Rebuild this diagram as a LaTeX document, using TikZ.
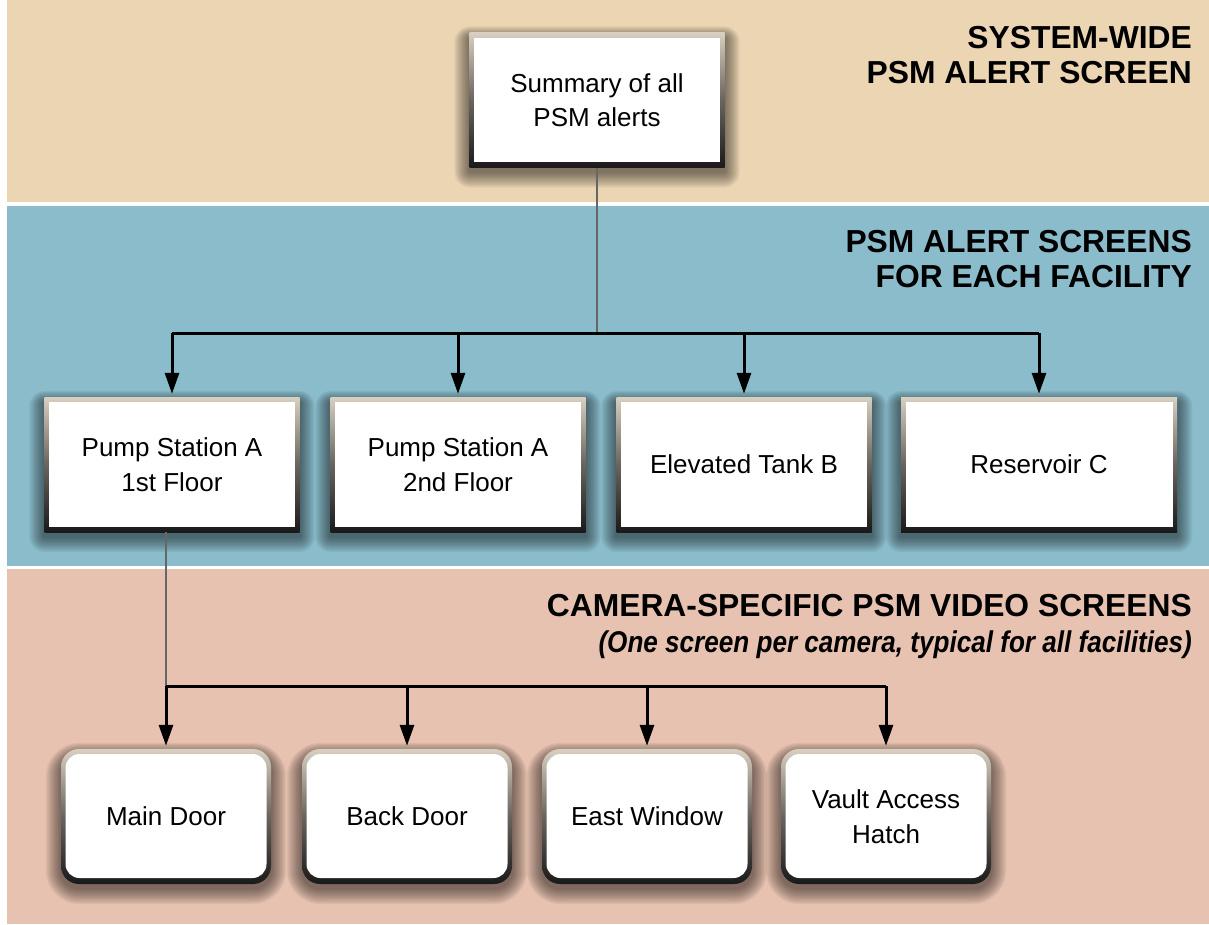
\documentclass[tikz,border=0pt]{standalone}
\usepackage{fontspec}
\setmainfont{Liberation Sans}
\newfontfamily\subfont[FakeStretch=0.87]{Liberation Sans}
\usetikzlibrary{arrows.meta,calc}
\pgfdeclarelayer{bg}
\pgfsetlayers{bg,main}
\definecolor{tanband}{HTML}{EBD5B3}
\definecolor{blueband}{HTML}{8ABCCB}
\definecolor{pinkband}{HTML}{E8C2B0}
\definecolor{boxtop}{HTML}{D8D0C0}
\definecolor{boxmid}{HTML}{6A645E}
\definecolor{boxbot}{HTML}{1A1A1A}
\tikzset{
  framebase/.style={inner sep=0pt, align=center, draw=none,
    font=\fontsize{26}{34.5}\selectfont,
    top color=boxtop, bottom color=boxbot, middle color=boxmid},
  sqbox/.style={framebase, minimum width=255pt, minimum height=135pt,
    path picture={\fill[white] ([xshift=4.5pt,yshift=-5pt]path picture bounding box.north west) rectangle ([xshift=-4.5pt,yshift=5.5pt]path picture bounding box.south east);}},
  rdbox/.style={framebase, minimum width=210pt, minimum height=135pt, rounded corners=18pt,
    path picture={\fill[white, rounded corners=14pt] ([xshift=4.5pt,yshift=-5pt]path picture bounding box.north west) rectangle ([xshift=-4.5pt,yshift=6pt]path picture bounding box.south east);}},
  head/.style={anchor=base east, inner sep=0pt, font=\fontsize{31.8}{35}\selectfont\bfseries},
  subhead/.style={anchor=base east, inner sep=0pt, font=\fontsize{30}{35}\selectfont\subfont\bfseries\itshape},
  gline/.style={draw=black!60, line width=2pt},
  bline/.style={draw=black, line width=3pt},
  arr/.style={draw=black, line width=3pt, -{Triangle[length=21pt,width=14pt]}, shorten >=3pt},
  shadowlayer/.style={fill=black, opacity=0.055},
}
\begin{document}
\begin{tikzpicture}[x=1pt,y=-1pt]
\useasboundingbox (0,0) rectangle (1209,924);

% headings
\node[head] (h1a) at (1192,48) {SYSTEM-WIDE};
\node[head] (h1b) at (1192,83) {PSM ALERT SCREEN};
\node[head] (h2a) at (1192,252) {PSM ALERT SCREENS};
\node[head] (h2b) at (1192,287) {FOR EACH FACILITY};
\node[head] (h3a) at (1192,616) {CAMERA-SPECIFIC PSM VIDEO SCREENS};
\node[subhead] (h3b) at (1192,652) {(One screen per camera, typical for all facilities)};

% boxes
\node[sqbox] (sum) at (597,100) {Summary of all\\PSM alerts};
\node[sqbox] (f1) at (172,464.5) {Pump Station A\\1st Floor};
\node[sqbox] (f2) at (458,464.5) {Pump Station A\\2nd Floor};
\node[sqbox] (f3) at (744,464.5) {Elevated Tank B};
\node[sqbox, minimum width=276pt] (f4) at (1039,464.5) {Reservoir C};

\node[rdbox] (c1) at (166,816.5) {Main Door};
\node[rdbox] (c2) at (407,816.5) {Back Door};
\node[rdbox] (c3) at (647,816.5) {East Window};
\node[rdbox] (c4) at (886,816.5) {Vault Access\\Hatch};

% background: bands and soft shadows
\begin{pgfonlayer}{bg}
\fill[white] (0,0) rectangle (1209,924);
\fill[tanband] (7,0) rectangle (1209,202);
\fill[blueband] (7,206) rectangle (1209,566);
\fill[pinkband] (7,569) rectangle (1209,924);
\foreach \n in {sum,f1,f2,f3,f4}{
  \foreach \i in {1,...,10}{
    \fill[shadowlayer, rounded corners=\i*1.6pt]
      ($(\n.north west)+(-\i*1.5,-\i*1.2+6)$) rectangle ($(\n.south east)+(\i*1.5,\i*1.6+4)$);
  }
}
\foreach \n in {c1,c2,c3,c4}{
  \foreach \i in {1,...,10}{
    \fill[shadowlayer, rounded corners=18pt+\i*1.6pt]
      ($(\n.north west)+(-\i*1.5,-\i*1.2+6)$) rectangle ($(\n.south east)+(\i*1.5,\i*1.6+4)$);
  }
}
\end{pgfonlayer}

% connectors level 1
\coordinate (bus1) at (597,333);
\draw[gline] (sum.south) -- (sum.south |- bus1);
\draw[bline] (f1.north |- bus1) -- (f4.north |- bus1);
\foreach \n in {f1,f2,f3,f4} \draw[arr] (\n.north |- bus1) -- (\n.north);

% connectors level 2
\coordinate (bus2) at (166,686);
\draw[gline] (f1.south -| c1.north) -- (c1.north |- bus2);
\draw[bline] (c1.north |- bus2) -- (c4.north |- bus2);
\foreach \n in {c1,c2,c3,c4} \draw[arr] (\n.north |- bus2) -- (\n.north);
\end{tikzpicture}
\end{document}
